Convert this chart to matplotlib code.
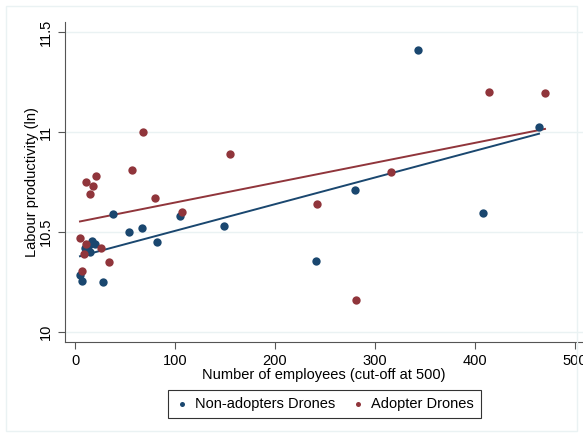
import matplotlib
matplotlib.use("Agg")
import matplotlib.pyplot as plt
import numpy as np
from matplotlib.patches import Rectangle

plt.rcParams["font.family"] = ["Liberation Sans", "DejaVu Sans"]

# non-adopters (employees, ln labour productivity)
non_x = [343, 464, 408, 280, 241, 149, 105, 82, 67, 54, 38, 28,
         17, 20, 14, 15, 10, 5, 7]
non_y = [11.41, 11.025, 10.595, 10.71, 10.353, 10.53, 10.58, 10.45, 10.52, 10.50, 10.59, 10.25,
         10.455, 10.44, 10.435, 10.40, 10.42, 10.285, 10.255]

# adopters
ado_x = [5, 11, 18, 21, 15, 68, 57, 80, 155, 107, 242, 281, 316, 414, 470,
         11, 9, 26, 34, 7]
ado_y = [10.47, 10.75, 10.73, 10.78, 10.69, 11.0, 10.81, 10.67, 10.89, 10.60, 10.64, 10.16, 10.80, 11.20, 11.195,
         10.44, 10.39, 10.42, 10.35, 10.305]

NAVY = "#1a476f"
MAROON = "#90353b"

fig = plt.figure(figsize=(5.83, 4.37), dpi=100)
ax = fig.add_axes((65 / 583, 1 - 342 / 437, 518 / 583, 320 / 437))

ax.scatter(non_x, non_y, s=36, color=NAVY, zorder=3, linewidths=0, label="Non-adopters Drones")
ax.scatter(ado_x, ado_y, s=36, color=MAROON, zorder=3, linewidths=0, label="Adopter Drones")

# linear fits over each group's range
for xs, ys, c in [(non_x, non_y, NAVY), (ado_x, ado_y, MAROON)]:
    b, a = np.polyfit(xs, ys, 1)
    xx = np.array([min(xs), max(xs)])
    ax.plot(xx, a + b * xx, color=c, lw=1.4, zorder=2)

ax.set_xlim(-10, 508)
ax.set_ylim(9.95, 11.55)
ax.set_xticks([0, 100, 200, 300, 400, 500])
ax.set_yticks([10, 10.5, 11, 11.5])
ax.set_yticklabels(["10", "10.5", "11", "11.5"], rotation=90, va="center")
ax.yaxis.grid(True, color="#eaf2f3", lw=1)
ax.set_axisbelow(True)
for s in ["top", "right"]:
    ax.spines[s].set_visible(False)
for s in ["left", "bottom"]:
    ax.spines[s].set_color("#555555")
ax.tick_params(colors="#555555", labelcolor="black", labelsize=10.5, length=5)
ax.set_xlabel("Number of employees (cut-off at 500)", fontsize=10.5, labelpad=0)
ax.set_ylabel("Labour productivity (ln)", fontsize=10.5, labelpad=0)

leg = fig.legend(loc="center", bbox_to_anchor=(325 / 583, 1 - 404 / 437), ncol=2,
                 fontsize=10.5, frameon=True, fancybox=False, markerscale=0.6,
                 handlelength=0.8, handletextpad=0.5, columnspacing=1.2, borderpad=0.5)
leg.get_frame().set_edgecolor("black")
leg.get_frame().set_linewidth(0.8)

fig.patches.append(Rectangle((6 / 583, 6 / 437), 1 - 12 / 583, 1 - 12 / 437,
                             transform=fig.transFigure, fill=False,
                             edgecolor="#eaf2f3", lw=1))

fig.savefig("out.png", dpi=100)
